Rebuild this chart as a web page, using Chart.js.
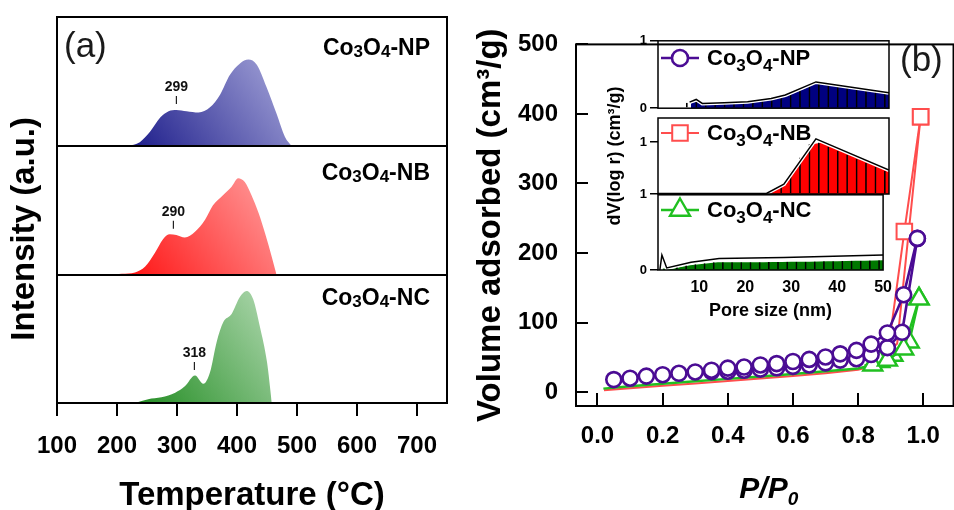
<!DOCTYPE html>
<html>
<head>
<meta charset="utf-8">
<script src="https://cdn.jsdelivr.net/npm/chart.js@4.4.1/dist/chart.umd.min.js"></script>
<style>
html,body{margin:0;padding:0;background:#fff;}
body{width:954px;height:510px;overflow:hidden;position:relative;}
canvas{position:absolute;}
</style>
</head>
<body>
<canvas id="cB" width="500" height="520" style="left:470px;top:0px"></canvas>
<canvas id="cA1" width="470" height="147" style="left:0px;top:0px"></canvas>
<canvas id="cA2" width="470" height="510" style="left:0px;top:0px"></canvas>
<canvas id="cA3" width="470" height="245" style="left:0px;top:275px"></canvas>
<canvas id="cI1" width="300" height="89" style="left:600px;top:30px"></canvas>
<canvas id="cI2" width="300" height="400" style="left:600px;top:0px"></canvas>
<canvas id="cI3" width="300" height="140" style="left:600px;top:184px"></canvas>
<script>
// ================= DATA =================
// Panel (a): H2-TPR profiles (temperature in °C, normalised intensity)
const tprTicks = [100, 200, 300, 400, 500, 600, 700];
const tprTempNP = [218, 238, 255, 272, 286, 299, 316, 336, 355, 372, 388, 405, 419, 433, 449, 466, 480, 491];
const tprIntNP  = [0, 0.03, 0.11, 0.22, 0.27, 0.28, 0.27, 0.26, 0.30, 0.40, 0.55, 0.64, 0.67, 0.63, 0.46, 0.25, 0.07, 0];
const tprTempNB = [180, 208, 230, 247, 263, 277, 288, 299, 313, 330, 347, 360, 377, 391, 402, 413, 424, 436, 447, 458, 466];
const tprIntNB  = [0, 0.01, 0.02, 0.065, 0.17, 0.28, 0.315, 0.31, 0.29, 0.335, 0.43, 0.54, 0.62, 0.685, 0.75, 0.72, 0.62, 0.48, 0.32, 0.14, 0];
const tprTempNC = [230, 252, 274, 297, 313, 330, 344, 355, 366, 377, 391, 405, 416, 427, 438, 450, 458];
const tprIntNC  = [0, 0.03, 0.045, 0.08, 0.13, 0.215, 0.15, 0.24, 0.475, 0.63, 0.695, 0.83, 0.875, 0.81, 0.60, 0.32, 0];
const sampleNames = ['Co3O4-NP', 'Co3O4-NB', 'Co3O4-NC'];
const peakText = ['299', '290', '318'];
const peakTemp = [299, 294, 329];

// Panel (b): N2 isotherms (P/P0, cm3/g)
const pTicks = [0, 0.2, 0.4, 0.6, 0.8, 1.0];
const vTicks = [0, 100, 200, 300, 400, 500];
const npAdsP = [0.05, 0.10, 0.15, 0.20, 0.25, 0.30, 0.35, 0.40, 0.45, 0.50, 0.55, 0.60, 0.65, 0.70, 0.745, 0.795, 0.84, 0.89, 0.94, 0.982];
const npAdsV = [18, 20, 23, 25, 27, 29, 31.5, 34.5, 36, 39, 41, 44, 47, 50.5, 55, 60, 69, 85, 140, 221];
const npDesP = [0.982, 0.935, 0.89, 0.84, 0.795, 0.745, 0.70, 0.65, 0.60, 0.55, 0.50, 0.45, 0.40, 0.35];
const npDesV = [221, 86, 64, 54, 48, 46, 42, 39, 37, 35, 33, 31.5, 30, 29.5];
const nbAdsP = [0.02, 0.1, 0.2, 0.3, 0.4, 0.5, 0.6, 0.7, 0.8, 0.85, 0.89, 0.942, 0.992];
const nbAdsV = [2.7, 5.5, 9, 12.5, 16, 19.5, 23, 27, 32, 38, 52, 231, 396];
const nbDesP = [0.992, 0.92, 0.87, 0.82];
const nbDesV = [396, 70, 47, 38];
const ncAdsP = [0.018, 0.1, 0.2, 0.3, 0.4, 0.5, 0.6, 0.7, 0.8, 0.845, 0.89, 0.94, 0.987];
const ncAdsV = [5, 8.5, 12, 15.5, 19, 22.5, 26, 30, 34, 39, 46, 62, 134];
const ncDesP = [0.987, 0.957, 0.907, 0.867, 0.82];
const ncDesV = [134, 72, 53, 44, 38];

// Inset: pore size distributions (nm, dV(log r))
const poreTicks = [10, 20, 30, 40, 50];
const poreBins = [2, 4, 6, 8, 10, 12, 14, 16, 18, 20, 22, 24, 26, 28, 30, 32, 34, 36, 38, 40, 42, 44, 46, 48, 50];
const npBinV = [null, null, null, 0.08, 0.10, 0.065, 0.07, 0.075, 0.08, 0.085, 0.105, 0.125, 0.155, 0.185, 0.23, 0.29, 0.36, 0.365, 0.345, 0.325, 0.305, 0.285, 0.26, 0.24, 0.22];
const npLineX = [7.7, 9.1, 10.4, 15, 20, 25, 28, 34.5, 50];
const npLineY = [0.09, 0.13, 0.07, 0.08, 0.094, 0.145, 0.196, 0.39, 0.23];
const nbBinV = [null, null, null, null, null, null, null, null, null, null, null, 0.01, 0.08, 0.17, 0.43, 0.70, 0.96, 0.99, 0.91, 0.83, 0.75, 0.67, 0.60, 0.52, 0.44];
const nbLineX = [1, 24, 27.7, 34.5, 50];
const nbLineY = [0.01, 0.01, 0.19, 1.06, 0.46];
const ncBinV = [0.03, 0.02, 0.06, 0.09, 0.11, 0.13, 0.15, 0.15, 0.15, 0.15, 0.15, 0.15, 0.155, 0.155, 0.16, 0.16, 0.16, 0.165, 0.17, 0.17, 0.175, 0.18, 0.18, 0.185, 0.19];
const ncLineX = [1.4, 1.85, 2.9, 8.2, 14.3, 28.4, 50];
const ncLineY = [0.0, 0.29, 0.04, 0.15, 0.225, 0.245, 0.29];
const insetTicksNP = [0, 1], insetTickTextNP = ['0', '1'];
const insetTicksNB = [0, 1], insetTickTextNB = ['1', '1'];
const insetTicksNC = [0], insetTickTextNC = ['0'];

// ================= HELPERS =================
const FONT = "'Liberation Sans', Arial, Helvetica, sans-serif";
Chart.defaults.font.family = FONT;
Chart.defaults.color = '#000';
const PURPLE = '#4b0c94', RED = '#ff4d4d', GREEN = '#20c020';

function xy(xs, ys) { return xs.map((x, i) => ({ x: x, y: ys[i] })); }
function interp(xs, ys, x) {
  for (let i = 1; i < xs.length; i++) {
    if (x <= xs[i]) { const t = (x - xs[i - 1]) / (xs[i] - xs[i - 1]); return ys[i - 1] + t * (ys[i] - ys[i - 1]); }
  }
  return ys[ys.length - 1];
}
function fixedTicks(arr) { return (s) => { s.ticks = arr.map(v => ({ value: v })); }; }
function subText(ctx, text, x, baseline, size, align, subScale, subDrop, style) {
  const st = style ? style + ' ' : '';
  const parts = text.split(/(\d)/).filter(s => s.length);
  const big = st + 'bold ' + size + 'px ' + FONT;
  const small = st + 'bold ' + Math.round(size * subScale) + 'px ' + FONT;
  let total = 0;
  const w = parts.map(p => { ctx.font = /^\d$/.test(p) ? small : big; const m = ctx.measureText(p).width; total += m; return m; });
  let cx = align === 'right' ? x - total : (align === 'center' ? x - total / 2 : x);
  ctx.textAlign = 'left'; ctx.textBaseline = 'alphabetic'; ctx.fillStyle = '#000';
  parts.forEach((p, i) => {
    const sub = /^\d$/.test(p);
    ctx.font = sub ? small : big;
    ctx.fillText(p, cx, baseline + (sub ? subDrop : 0));
    cx += w[i];
  });
}
function framePlugin(width) {
  return { id: 'frame', afterDraw(chart) {
    const a = chart.chartArea, ctx = chart.ctx;
    ctx.save(); ctx.strokeStyle = '#000'; ctx.lineWidth = width;
    ctx.strokeRect(a.left, a.top, a.right - a.left, a.bottom - a.top);
    ctx.restore();
  } };
}
function gradientFill(dark, light) {
  return (c) => {
    const ch = c.chart, a = ch.chartArea;
    if (!a) return dark;
    const xs = ch.scales.x, ys = ch.scales.y;
    const g = ch.ctx.createLinearGradient(xs.getPixelForValue(220), ys.getPixelForValue(0), xs.getPixelForValue(460), ys.getPixelForValue(0.8));
    g.addColorStop(0, dark); g.addColorStop(1, light);
    return g;
  };
}
function drawMarker(ctx, style, x, y, r) {
  ctx.beginPath();
  if (style === 'circle') ctx.arc(x, y, r, 0, Math.PI * 2);
  else if (style === 'rect') { const s = r * Math.SQRT2; ctx.rect(x - s / 2, y - s / 2, s, s); }
  else { for (let k = 0; k < 3; k++) { const ang = -Math.PI / 2 + k * 2 * Math.PI / 3; const px = x + r * Math.cos(ang), py = y + r * Math.sin(ang); k ? ctx.lineTo(px, py) : ctx.moveTo(px, py); } ctx.closePath(); }
  ctx.fill(); ctx.stroke();
}
const baseOpts = { responsive: false, animation: false, devicePixelRatio: 1, events: [] };
const noPlug = { legend: { display: false }, tooltip: { enabled: false } };

// ================= PANEL (a) =================
const hiddenTX = { type: 'linear', min: 100, max: 750, display: false };
function tprChart(id, idx, temps, ints, dark, light, padding, xScale, yScale, labelBaseline, extra) {
  return new Chart(document.getElementById(id), {
    type: 'line',
    data: { datasets: [{ data: xy(temps, ints), fill: 'origin', borderColor: 'rgba(0,0,0,0)', borderWidth: 0, pointRadius: 0, cubicInterpolationMode: 'monotone', backgroundColor: gradientFill(dark, light) }] },
    options: Object.assign({}, baseOpts, { layout: { padding: padding }, plugins: noPlug, scales: { x: xScale, y: yScale } }),
    plugins: [framePlugin(2), { id: 'deco' + idx, afterDraw(chart) {
      const ctx = chart.ctx, xs = chart.scales.x, ys = chart.scales.y;
      ctx.save();
      subText(ctx, sampleNames[idx], 430, labelBaseline, 23, 'right', 0.72, 1.5);
      const T = peakTemp[idx];
      const px = xs.getPixelForValue(T), py = ys.getPixelForValue(interp(temps, ints, T));
      ctx.strokeStyle = '#222'; ctx.lineWidth = 1.2;
      ctx.beginPath(); ctx.moveTo(px, py - 14); ctx.lineTo(px, py - 6); ctx.stroke();
      ctx.font = 'bold 14px ' + FONT; ctx.fillStyle = '#111'; ctx.textAlign = 'center'; ctx.textBaseline = 'middle';
      ctx.fillText(peakText[idx], px, py - 23);
      if (extra) extra(ctx);
      ctx.restore();
    } }]
  });
}
tprChart('cA1', 0, tprTempNP, tprIntNP, '#1c1c8a', '#a4a4d8', { left: 57, right: 23, top: 17, bottom: 1 }, hiddenTX,
  { min: 0, max: 1, display: false }, 55,
  (ctx) => { ctx.font = '35px ' + FONT; ctx.fillStyle = '#1a1a1a'; ctx.textAlign = 'left'; ctx.textBaseline = 'alphabetic'; ctx.fillText('(a)', 64, 57); });
tprChart('cA2', 1, tprTempNB, tprIntNB, '#ff1515', '#ffa0a0', { left: 0, right: 23, top: 146, bottom: 235 }, hiddenTX,
  { min: 0, max: 1, ticks: { display: false }, grid: { display: false, drawTicks: false }, border: { display: false },
    title: { display: true, text: 'Intensity (a.u.)    ', font: { size: 33, weight: 'bold' }, padding: { top: 5, bottom: 0 } },
    afterFit: (s) => { s.width = 57; } }, 180);
tprChart('cA3', 2, tprTempNC, tprIntNC, '#1e8a1e', '#acd6ac', { left: 0, right: 23, top: 0, bottom: 0 },
  { type: 'linear', min: 100, max: 750, afterBuildTicks: fixedTicks(tprTicks),
    ticks: { font: { size: 24, weight: 'bold' }, padding: 16, maxRotation: 0, autoSkip: false },
    grid: { drawOnChartArea: false, drawTicks: true, tickLength: 13, lineWidth: 2, color: '#000' }, border: { display: false },
    title: { display: true, text: 'Temperature (°C)', font: { size: 33, weight: 'bold' }, padding: { top: 0, bottom: 4 } },
    afterFit: (s) => { s.height = 117; } },
  { min: 0, max: 1, ticks: { display: false }, grid: { display: false, drawTicks: false }, border: { display: false }, afterFit: (s) => { s.width = 57; } }, 30);

// ================= PANEL (b) =================
function isoSet(label, P, V, color, lw, style, r, bw, minMarkP) {
  return { label: label, data: xy(P, V), showLine: true, borderColor: color, borderWidth: lw, pointStyle: style,
    pointRadius: (c) => (c.raw && c.raw.x >= minMarkP ? r : 0), pointBorderWidth: bw,
    pointBackgroundColor: '#fff', pointBorderColor: color, tension: 0 };
}
const isoDatasets = [
  isoSet(sampleNames[0] + ' ads', npAdsP, npAdsV, PURPLE, 2.6, 'circle', 7.5, 2.6, 0),
  isoSet(sampleNames[0] + ' des', npDesP, npDesV, PURPLE, 2.6, 'circle', 7.5, 2.6, 0),
  isoSet(sampleNames[2] + ' ads', ncAdsP, ncAdsV, GREEN, 2.4, 'triangle', 11, 2.4, 0.84),
  isoSet(sampleNames[2] + ' des', ncDesP, ncDesV, GREEN, 2.4, 'triangle', 11, 2.4, 0.84),
  isoSet(sampleNames[1] + ' ads', nbAdsP, nbAdsV, RED, 2, 'rect', 11, 2, 0.93),
  isoSet(sampleNames[1] + ' des', nbDesP, nbDesV, RED, 2, 'rect', 11, 2, 0.93)
];
const legendRows = [{ ds: 0, y: 58, name: sampleNames[0] }, { ds: 4, y: 133, name: sampleNames[1] }, { ds: 2, y: 210, name: sampleNames[2] }];
const legendMarkerR = { circle: 8, rect: 11, triangle: 11.5 };
const isoXTitle = 'P/P0';
new Chart(document.getElementById('cB'), {
  type: 'scatter',
  data: { datasets: isoDatasets },
  options: Object.assign({}, baseOpts, {
    layout: { padding: { left: 0, right: 8, top: 19, bottom: 0 } },
    plugins: noPlug,
    scales: {
      x: { type: 'linear', min: -0.066, max: 1.093, afterBuildTicks: fixedTicks(pTicks),
        ticks: { callback: (v) => Number(v).toFixed(1), font: { size: 24, weight: 'bold' }, padding: 29, maxRotation: 0, autoSkip: false },
        grid: { drawOnChartArea: false, tickLength: -13, lineWidth: 2, color: '#000' }, border: { display: false },
        afterFit: (s) => { s.height = 114; } },
      y: { type: 'linear', min: -20, max: 500, afterBuildTicks: fixedTicks(vTicks),
        ticks: { font: { size: 24, weight: 'bold' }, padding: 30 },
        grid: { drawOnChartArea: false, tickLength: -12, lineWidth: 2, color: '#000' }, border: { display: false },
        title: { display: true, text: 'Volume adsorbed (cm\u00b3/g)', font: { size: 33, weight: 'bold' }, padding: { top: 1, bottom: 0 } },
        afterFit: (s) => { s.width = 106; } }
    }
  }),
  plugins: [framePlugin(2), { id: 'isoDeco', afterDraw(chart) {
    const ctx = chart.ctx, a = chart.chartArea;
    ctx.save();
    legendRows.forEach((row) => {
      const ds = chart.data.datasets[row.ds];
      ctx.strokeStyle = ds.borderColor; ctx.lineWidth = ds.borderWidth;
      ctx.beginPath(); ctx.moveTo(191, row.y); ctx.lineTo(229, row.y); ctx.stroke();
      ctx.fillStyle = '#fff'; ctx.lineWidth = ds.pointBorderWidth;
      drawMarker(ctx, ds.pointStyle, 210, row.y, legendMarkerR[ds.pointStyle]);
      subText(ctx, row.name, 237, row.y + 7, 22, 'left', 0.75, 6);
    });
    // x-axis title with subscript
    subText(ctx, isoXTitle, (a.left + a.right) / 2 + 4, 498, 30, 'center', 0.62, 7, 'italic');
    ctx.font = '35px ' + FONT; ctx.fillStyle = '#1a1a1a'; ctx.textAlign = 'left'; ctx.textBaseline = 'alphabetic';
    ctx.fillText('(b)', 430, 71);
    ctx.restore();
  } }]
});

// ================= INSET =================
function insetChart(id, binV, lineX, lineY, fillColor, padding, yMax, yTicks, yText, xScale, yTitle) {
  const yScale = { min: 0, max: yMax, afterBuildTicks: fixedTicks(yTicks),
    ticks: { callback: (v, i) => yText[i], font: { size: 13, weight: 'bold' }, padding: 3 },
    grid: { drawOnChartArea: false, tickLength: 8, lineWidth: 1.5, color: '#000' }, border: { display: false },
    afterFit: (s) => { s.width = 58; } };
  if (yTitle) yScale.title = { display: true, text: yTitle, font: { size: 18, weight: 'bold' }, padding: { top: 4, bottom: 0 } };
  return new Chart(document.getElementById(id), {
    type: 'line',
    data: { datasets: [
      { type: 'line', data: xy(poreBins, binV), fill: 'origin', backgroundColor: fillColor, borderColor: 'rgba(0,0,0,0)', borderWidth: 0, pointRadius: 0, tension: 0, order: 3 },
      { type: 'bar', data: xy(poreBins, binV), backgroundColor: 'rgba(0,0,0,0)', borderColor: '#000', borderWidth: { left: 1, right: 0, top: 0, bottom: 0 }, borderSkipped: false, barPercentage: 1, categoryPercentage: 1, order: 2 },
      { type: 'line', data: xy(lineX, lineY), fill: false, borderColor: '#fff', borderWidth: 4, pointRadius: 0, tension: 0, order: 1 },
      { type: 'line', data: xy(lineX, lineY), fill: false, borderColor: '#000', borderWidth: 1.5, pointRadius: 0, tension: 0, order: 0 }
    ] },
    options: Object.assign({}, baseOpts, { layout: { padding: padding }, plugins: noPlug, scales: { x: xScale, y: yScale } }),
    plugins: [framePlugin(1.5)]
  });
}
const hiddenPX = { type: 'linear', min: 1, max: 50, display: false, offset: false, grid: { offset: false } };
insetChart('cI1', npBinV, npLineX, npLineY, '#000080', { left: 0, right: 11, top: 10, bottom: 1 }, 1, insetTicksNP, insetTickTextNP, hiddenPX, null);
insetChart('cI2', nbBinV, nbLineX, nbLineY, '#ff0000', { left: 0, right: 11, top: 118, bottom: 206 }, 1.46, insetTicksNB, insetTickTextNB, hiddenPX, 'dV(log r) (cm\u00b3/g)');
insetChart('cI3', ncBinV, ncLineX, ncLineY, '#007800', { left: 0, right: 11, top: 10, bottom: 0 }, 1.46, insetTicksNC, insetTickTextNC,
  { type: 'linear', min: 1, max: 50, offset: false, afterBuildTicks: fixedTicks(poreTicks),
    ticks: { font: { size: 16, weight: 'bold' }, padding: 8, maxRotation: 0, autoSkip: false },
    grid: { display: false, drawTicks: false, offset: false }, border: { display: false },
    title: { display: true, text: 'Pore size (nm)', font: { size: 18, weight: 'bold' }, padding: { top: 0, bottom: 2 } },
    afterFit: (s) => { s.height = 54; } }, null);
</script>
</body>
</html>
